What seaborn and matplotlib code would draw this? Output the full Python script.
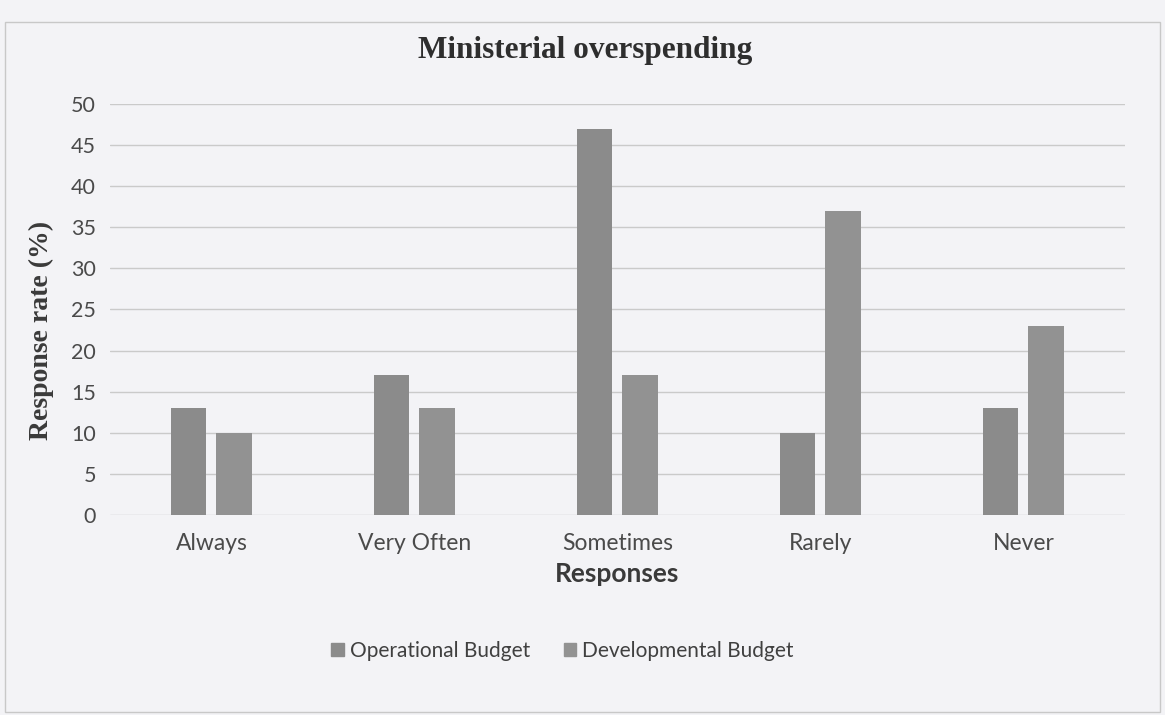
import matplotlib
matplotlib.use("Agg")
import matplotlib.pyplot as plt
from matplotlib.patches import Rectangle
import pandas as pd
import seaborn as sns

# Survey results: share of respondents per answer (%)
responses = ["Always", "Very Often", "Sometimes", "Rarely", "Never"]
operational = [13, 17, 47, 10, 13]
developmental = [10, 13, 17, 37, 23]
series_names = ["Operational Budget", "Developmental Budget"]
y_ticks = [0, 5, 10, 15, 20, 25, 30, 35, 40, 45, 50]

df = pd.DataFrame({
    "Responses": responses * 2,
    "Rate": operational + developmental,
    "Budget": [series_names[0]] * len(responses) + [series_names[1]] * len(responses),
})

sns.set_theme(style="white")
plt.rcParams["font.family"] = ["Lato", "DejaVu Sans"]

bg = "#f3f3f6"
fig = plt.figure(figsize=(11.65, 7.15), dpi=100, facecolor=bg)
ax = fig.add_axes([0.0944, 0.2797, 0.8712, 0.575])
ax.set_facecolor(bg)

palette = {series_names[0]: "#8b8b8b", series_names[1]: "#929292"}
sns.barplot(data=df, x="Responses", y="Rate", hue="Budget", order=responses,
            hue_order=series_names, palette=palette, width=0.45, gap=0.22,
            saturation=1, linewidth=0, ax=ax, legend=False, zorder=3)

ax.set_ylim(0, 50)
ax.set_yticks(y_ticks)
ax.yaxis.grid(True, color="#cacaca", linewidth=1.0, zorder=0)
ax.xaxis.grid(False)
for s in ax.spines.values():
    s.set_visible(False)
ax.tick_params(axis="y", length=0, pad=10, labelsize=15.5, labelcolor="#4a4a4a")
ax.tick_params(axis="x", length=0, pad=13, labelsize=16.5, labelcolor="#4a4a4a")

ax.set_ylabel("Response rate (%)", fontsize=20, fontweight="bold",
              family=["Liberation Serif"], color="#3a3a3a", labelpad=2)
ax.yaxis.set_label_coords(-0.055, 0.45)
ax.set_xlabel("Responses", fontsize=19, fontweight="bold", color="#3a3a3a", labelpad=6)

fig.text(0.502, 0.93, "Ministerial overspending", ha="center", va="center",
         fontsize=22.5, fontweight="bold", family=["Liberation Serif"], color="#2e2e2e")

handles = [Rectangle((0, 0), 1, 1, color=palette[n]) for n in series_names]
fig.legend(handles, series_names, loc="center", bbox_to_anchor=(0.483, 0.09), ncol=2,
           frameon=False, fontsize=15, handlelength=0.6, handleheight=0.6,
           handletextpad=0.3, columnspacing=1.6, labelcolor="#404040")

# chart frame
fig.patches.append(Rectangle((0.004, 0.004), 0.992, 0.965, transform=fig.transFigure,
                             fill=False, edgecolor="#c8c8c8", linewidth=1.0))

fig.savefig("out.png", dpi=100, facecolor=bg)
